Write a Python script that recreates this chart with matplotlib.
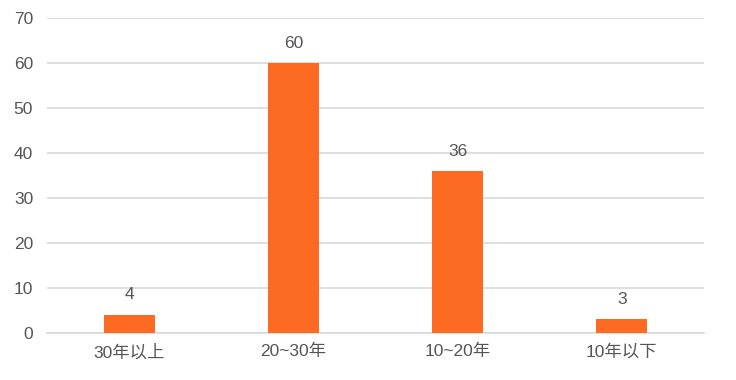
import matplotlib
matplotlib.use('Agg')
import matplotlib.pyplot as plt
import numpy as np

plt.rcParams['font.family'] = ['Liberation Sans', 'Noto Sans CJK SC', 'DejaVu Sans']

# data
categories = ['30年以上', '20~30年', '10~20年', '10年以下']
values = [4, 60, 36, 3]
y_ticks = [0, 10, 20, 30, 40, 50, 60, 70]

bar_color = '#FD6A22'
text_color = '#555555'

fig = plt.figure(figsize=(7.36, 3.8), dpi=100)
ax = fig.add_axes([0.0639, 0.1237, 0.8926, 0.8289])

x = np.arange(len(categories))
bars = ax.bar(x, values, width=0.31, color=bar_color, zorder=3)

for xi, v in zip(x, values):
    ax.annotate(str(v), (xi, v), xytext=(0, 9), textcoords='offset points',
                ha='center', va='bottom', fontsize=12.5, color=text_color)

ax.set_xlim(-0.5, len(categories) - 0.5)
ax.set_ylim(0, 70)
ax.set_yticks(y_ticks)
ax.set_xticks(x)
ax.set_xticklabels(categories)
ax.grid(axis='y', color='#D9D9D9', linewidth=1.2, zorder=0)
ax.set_axisbelow(True)
for s in ['top', 'right', 'left']:
    ax.spines[s].set_visible(False)
ax.spines['bottom'].set_color('#D9D9D9')
ax.spines['bottom'].set_linewidth(1.2)
ax.tick_params(axis='both', length=0, labelsize=12.5, labelcolor=text_color)
ax.tick_params(axis='y', pad=10)
ax.tick_params(axis='x', pad=8)

fig.savefig('out.png', dpi=100)
